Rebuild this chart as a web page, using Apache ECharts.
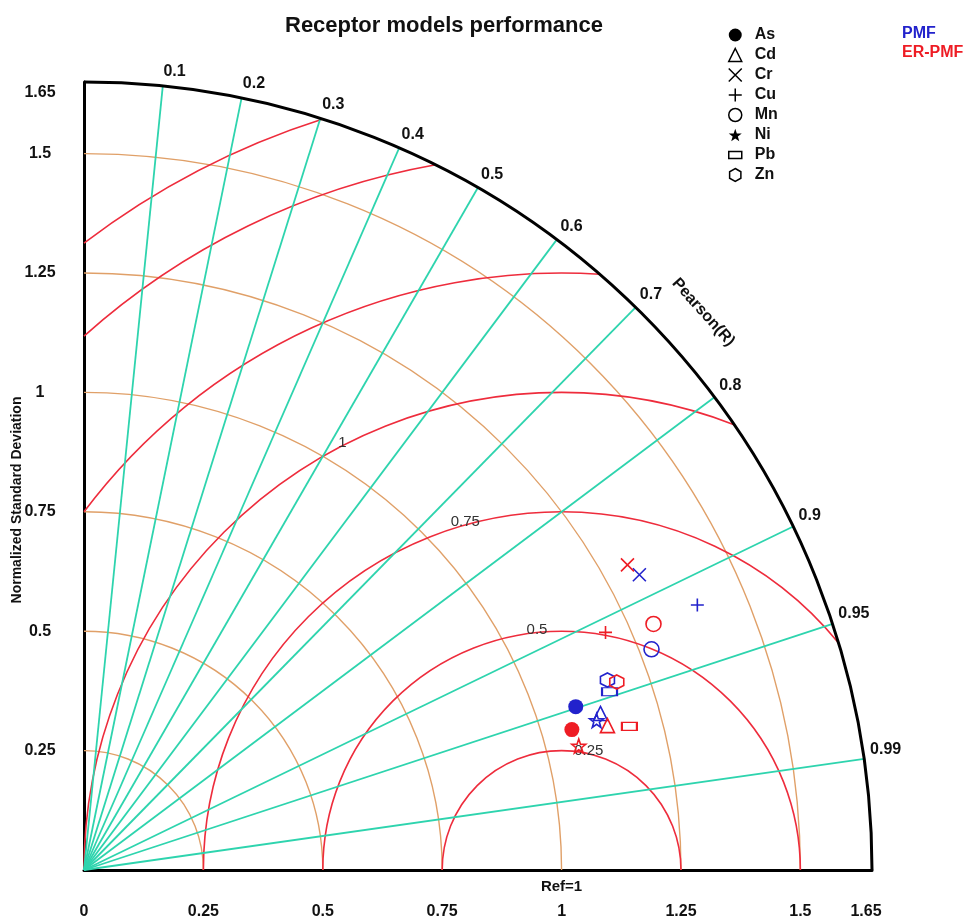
<!DOCTYPE html>
<html><head><meta charset="utf-8">
<script src="https://cdn.jsdelivr.net/npm/echarts@6/dist/echarts.min.js"></script>
<style>html,body{margin:0;padding:0;background:#fff}#c{width:967px;height:922px}</style>
</head><body><div id="c"></div>
<script>
// ---- data ----
const elements = ['As','Cd','Cr','Cu','Mn','Ni','Pb','Zn'];
const models = ['PMF','ER-PMF'];
const pmfStd  = [1.085,1.130,1.317,1.399,1.275,1.118,1.162,1.166];
const pmfCorr = [0.949,0.957,0.883,0.918,0.932,0.960,0.947,0.940];
const erStd   = [1.063,1.137,1.305,1.200,1.299,1.068,1.181,1.183];
const erCorr  = [0.961,0.964,0.872,0.910,0.918,0.970,0.967,0.943];
const xTickValues = [0,0.25,0.5,0.75,1,1.25,1.5,1.65];
const yTickValues = [0.25,0.5,0.75,1,1.25,1.5,1.65];
const corrTicks = [0.1,0.2,0.3,0.4,0.5,0.6,0.7,0.8,0.9,0.95,0.99];
const stdArcs = [0.25,0.5,0.75,1,1.25,1.5];
const rmsArcs = [0.25,0.5,0.75,1,1.25,1.5,1.65];
const rmsLabels = [0.25,0.5,0.75,1];
const maxStd = 1.65;
const refStd = 1;

// ---- styles / layout ----
const FONT = 'Liberation Sans, Arial, sans-serif';
const C_CORR = '#2ed4ae', C_STD = '#e0a068', C_RMS = '#ee2c3c';
const modelColors = ['#2222cc', '#ee1c24'];
const rmsLabelAngles = [76.8, 95.9, 105.6, 117.3];
const STAR = 'path://M5,0L6.176,3.382L9.755,3.455L6.902,5.618L7.939,9.045L5,7L2.061,9.045L3.098,5.618L0.245,3.455L3.824,3.382Z';
const HEX = 'path://M5,0L9.33,2.5L9.33,7.5L5,10L0.67,7.5L0.67,2.5Z';
const XS = 'path://M0,0L10,10M10,0L0,10';
const PLUS = 'path://M5,0L5,10M0,5L10,5';
const symbolDefs = {
  As: {symbol:'circle', size:15, filled:true, legendFilled:true},
  Cd: {symbol:'triangle', size:14, filled:false},
  Cr: {symbol:XS, size:13, filled:false},
  Cu: {symbol:PLUS, size:13, filled:false},
  Mn: {symbol:'circle', size:15, filled:false},
  Ni: {symbol:STAR, size:14, filled:false, legendFilled:true},
  Pb: {symbol:'rect', size:[15,8], filled:false},
  Zn: {symbol:HEX, size:14, filled:false}
};

function toXY(sd, r){ return [sd*r, sd*Math.sqrt(1-r*r)]; }

function renderGrid(params, api){
  const o = api.coord([0,0]);
  const unit = api.size([1,1])[0];
  const R = maxStd*unit;
  const ch = [];
  stdArcs.forEach(r => ch.push({type:'arc', shape:{cx:o[0], cy:o[1], r:r*unit, startAngle:-Math.PI/2, endAngle:0, clockwise:true}, style:{stroke:C_STD, lineWidth:1.4, fill:null}}));
  const c = api.coord([refStd,0]);
  rmsArcs.forEach(r => {
    let phi1 = 0, phi2 = Math.PI;
    if (refStd + r > maxStd) { const xo = (maxStd*maxStd - r*r + refStd*refStd)/(2*refStd); phi1 = Math.acos((xo-refStd)/r); }
    if (r > refStd) phi2 = Math.acos(-refStd/r);
    ch.push({type:'arc', shape:{cx:c[0], cy:c[1], r:r*unit, startAngle:-phi2, endAngle:-phi1, clockwise:true}, style:{stroke:C_RMS, lineWidth:1.6, fill:null}});
  });
  corrTicks.forEach(k => {
    const e = api.coord([maxStd*k, maxStd*Math.sqrt(1-k*k)]);
    ch.push({type:'line', shape:{x1:o[0], y1:o[1], x2:e[0], y2:e[1]}, style:{stroke:C_CORR, lineWidth:1.8}});
    const s = Math.sqrt(1-k*k);
    ch.push({type:'text', x:e[0]+6*k, y:e[1]-6*s, style:{text:String(k), font:'bold 16px '+FONT, fill:'#111', align:'left', verticalAlign:'bottom'}});
  });
  ch.push({type:'arc', shape:{cx:o[0], cy:o[1], r:R, startAngle:-Math.PI/2, endAngle:0, clockwise:true}, style:{stroke:'#000', lineWidth:3, fill:null}});
  rmsLabels.forEach((r,i) => {
    const a = rmsLabelAngles[i]*Math.PI/180;
    ch.push({type:'text', x:c[0]+r*unit*Math.cos(a), y:c[1]-r*unit*Math.sin(a)-3, style:{text:String(r), font:'15px '+FONT, fill:'#333', align:'center', verticalAlign:'middle'}});
  });
  const pa = 42*Math.PI/180, pr = 1.745*unit;
  ch.push({type:'text', x:o[0]+pr*Math.cos(pa), y:o[1]-pr*Math.sin(pa), rotation:-(Math.PI/2-pa), style:{text:'Pearson(R)', font:'bold 16px '+FONT, fill:'#111', align:'center', verticalAlign:'middle'}});
  ch.push({type:'text', x:c[0], y:c[1]+17, style:{text:'Ref=1', font:'bold 15px '+FONT, fill:'#111', align:'center', verticalAlign:'middle'}});
  return {type:'group', children:ch};
}

const series = [{type:'custom', coordinateSystem:'cartesian2d', data:[[0,0]], renderItem:renderGrid, silent:true, z:1, clip:false}];
elements.forEach((el,i) => {
  const d = symbolDefs[el];
  const pts = [[pmfStd[i],pmfCorr[i]],[erStd[i],erCorr[i]]].map((p,m) => ({
    value: toXY(p[0],p[1]),
    itemStyle: d.filled ? {color:modelColors[m], borderWidth:0, opacity:1} : {color:'rgba(0,0,0,0)', borderColor:modelColors[m], borderWidth:1.6, opacity:1}
  }));
  series.push({type:'scatter', name:el, symbol:d.symbol, symbolSize:d.size, data:pts, z:5, silent:true, itemStyle:{opacity:1}});
});

const legendData = elements.map(el => {
  const d = symbolDefs[el];
  let icon = d.symbol;
  if (el === 'Pb') icon = 'path://M0,0L15,0L15,8L0,8Z';
  return {name:el, icon:icon, itemStyle: d.legendFilled ? {color:'#000', borderWidth:0, opacity:1} : {color:'rgba(0,0,0,0)', borderColor:'#000', borderWidth:1.5, opacity:1}};
});

const chart = echarts.init(document.getElementById('c'), null, {renderer:'canvas'});
chart.setOption({
  animation:false,
  backgroundColor:'#fff',
  title:{text:'Receptor models performance', left:280, top:10, textStyle:{fontSize:22, fontWeight:'bold', color:'#111', fontFamily:FONT}},
  grid:{left:84, right:95, top:82, bottom:52, containLabel:false},
  legend:{orient:'vertical', left:723, top:22, itemWidth:13, itemHeight:13, itemGap:4, selectedMode:false,
    textStyle:{fontSize:16, fontWeight:'bold', color:'#111', fontFamily:FONT, lineHeight:13, padding:[0,0,0,8]}, data:legendData},
  xAxis:{type:'value', min:0, max:maxStd, interval:0.25,
    axisLine:{show:true, onZero:false, lineStyle:{color:'#000', width:3}}, axisTick:{show:false}, splitLine:{show:false},
    axisLabel:{customValues:xTickValues, margin:34, fontSize:16, fontWeight:'bold', color:'#111', fontFamily:FONT,
      formatter:v => Math.abs(v-1.65)<1e-9 ? '{m|1.65}' : String(v),
      rich:{m:{fontSize:16, fontWeight:'bold', color:'#111', fontFamily:FONT, padding:[0,12,0,0]}}}},
  yAxis:{type:'value', min:0, max:maxStd, interval:0.25,
    axisLine:{show:true, onZero:false, lineStyle:{color:'#000', width:3}}, axisTick:{show:false}, splitLine:{show:false},
    axisLabel:{customValues:yTickValues, margin:44, align:'center', fontSize:16, fontWeight:'bold', color:'#111', fontFamily:FONT,
      formatter:v => Math.abs(v-1.65)<1e-9 ? '{m|1.65}' : String(v),
      rich:{m:{fontSize:16, fontWeight:'bold', color:'#111', fontFamily:FONT, padding:[22,0,0,0]}}}},
  graphic:[
    {type:'text', x:17, y:500, rotation:Math.PI/2, style:{text:'Normalized Standard Deviation', font:'bold 14px '+FONT, fill:'#111', align:'center', verticalAlign:'middle'}},
    {type:'text', x:902, y:34, style:{text:models[0], font:'bold 16px '+FONT, fill:modelColors[0], align:'left', verticalAlign:'middle'}},
    {type:'text', x:902, y:53, style:{text:models[1], font:'bold 16px '+FONT, fill:modelColors[1], align:'left', verticalAlign:'middle'}}
  ],
  series:series
});
</script></body></html>
